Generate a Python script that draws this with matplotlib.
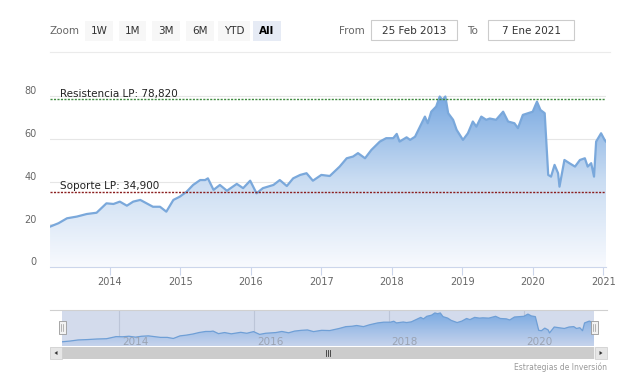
import matplotlib.pyplot as plt
import numpy as np
from matplotlib.colors import LinearSegmentedColormap
from matplotlib.patches import Rectangle, Polygon

# fecha en años decimales (25 Feb 2013 -> 7 Ene 2021), precio de cierre
fecha = [2013.15, 2013.27, 2013.39, 2013.53, 2013.67, 2013.81, 2013.95, 2014.05,
         2014.14, 2014.24, 2014.33, 2014.43, 2014.52, 2014.61, 2014.71, 2014.80,
         2014.90, 2014.99, 2015.09, 2015.18, 2015.28, 2015.35, 2015.39, 2015.47,
         2015.56, 2015.66, 2015.80, 2015.89, 2015.99, 2016.08, 2016.17, 2016.32,
         2016.41, 2016.51, 2016.60, 2016.70, 2016.79, 2016.88, 2017.00, 2017.12,
         2017.26, 2017.36, 2017.45, 2017.52, 2017.62, 2017.71, 2017.83, 2017.92,
         2018.02, 2018.07, 2018.11, 2018.21, 2018.26, 2018.33, 2018.47, 2018.51,
         2018.56, 2018.63, 2018.68, 2018.72, 2018.76, 2018.80, 2018.87, 2018.92,
         2019.01, 2019.08, 2019.15, 2019.20, 2019.27, 2019.34, 2019.39, 2019.48,
         2019.58, 2019.65, 2019.74, 2019.79, 2019.86, 2020.00, 2020.06, 2020.11,
         2020.17, 2020.22, 2020.26, 2020.31, 2020.36, 2020.38, 2020.45, 2020.52,
         2020.60, 2020.67, 2020.74, 2020.78, 2020.83, 2020.87, 2020.90, 2020.97,
         2021.02, 2021.04]
precio = [18.9, 20.5, 22.8, 23.6, 24.8, 25.4, 29.8, 29.5,
          30.6, 28.7, 30.6, 31.4, 29.8, 28.2, 28.2, 25.9,
          31.4, 32.9, 35.3, 38.4, 40.7, 40.7, 41.5, 36.1,
          38.4, 35.7, 38.9, 36.9, 40.4, 34.5, 36.9, 38.4,
          40.7, 37.9, 41.5, 43.1, 43.9, 40.4, 43.1, 42.6,
          47.0, 50.9, 51.7, 53.3, 50.9, 54.8, 58.7, 60.3,
          60.3, 62.3, 58.7, 60.7, 59.5, 61.0, 70.4, 67.3,
          72.7, 75.1, 79.8, 78.2, 79.8, 72.0, 68.9, 64.2,
          59.5, 62.6, 68.1, 65.7, 70.4, 68.9, 69.5, 68.9,
          72.7, 68.1, 67.3, 65.0, 71.2, 72.7, 77.4, 73.5,
          72.0, 43.1, 42.3, 47.8, 43.9, 37.6, 50.1, 48.6,
          47.0, 50.1, 50.9, 47.0, 48.6, 42.3, 58.7, 62.6,
          59.5, 58.7]

anios = [2014, 2015, 2016, 2017, 2018, 2019, 2020, 2021]
anios_nav = [2014, 2016, 2018, 2020]
valores_y = [0, 20, 40, 60, 80]
resistencia = 78.82
soporte = 34.90
botones = ["1W", "1M", "3M", "6M", "YTD", "All"]
desde = "25 Feb 2013"
hasta = "7 Ene 2021"

W, H = 624, 376
fig = plt.figure(figsize=(6.24, 3.76), dpi=100)
plt.rcParams['font.family'] = 'DejaVu Sans'


def ejes_px(x0, y0, x1, y1, **kw):
    return fig.add_axes([x0 / W, 1 - y1 / H, (x1 - x0) / W, (y1 - y0) / H], **kw)


def area_gradiente(ax, x, y, ymin, ymax, cmap):
    poly = ax.fill_between(x, y, ymin, facecolor='none', edgecolor='none')
    im = ax.imshow(np.linspace(0, 1, 256).reshape(-1, 1), cmap=cmap, aspect='auto',
                   origin='lower', extent=[x[0], x[-1], ymin, ymax], zorder=1)
    im.set_clip_path(poly.get_paths()[0], transform=ax.transData)


xlim = (2013.149, 2021.04)

# ---- grafico principal
ax = ejes_px(50, 79, 606, 267)
cmap = LinearSegmentedColormap.from_list('g', ['#f8fafe', '#c9dcf2', '#74a6e0'])
area_gradiente(ax, fecha, precio, 0, 82, cmap)
ax.plot(fecha, precio, color='#7aa8db', lw=1.6, zorder=3)
ax.set_xlim(*xlim)
ax.set_ylim(0, 88)
for v in valores_y[1:]:
    ax.axhline(v, color='#e6e6e6', lw=0.8, zorder=0)
for s in ['top', 'right', 'left']:
    ax.spines[s].set_visible(False)
ax.spines['bottom'].set_color('#ccd6eb')
ax.set_facecolor('none')
ax.set_yticks([])
ax.set_xticks(anios)
ax.set_xticklabels([str(a) for a in anios])
ax.tick_params(axis='x', length=6, color='#ccd6eb', labelcolor='#666666',
               labelsize=7, pad=1.5)
for v in valores_y:
    ax.text(-0.024, v + 0.8, str(v), transform=ax.get_yaxis_transform(),
            ha='right', va='baseline', fontsize=7, color='#666666')

ax.axhline(resistencia, color='#3f8a3f', lw=1, ls=(0, (1.5, 1)), zorder=4)
ax.axhline(soporte, color='#8b1e1e', lw=1, ls=(0, (1.5, 1)), zorder=4)
ax.text(xlim[0] + 10 / 70.5, resistencia + 0.9, "Resistencia LP: 78,820",
        fontsize=7.5, color='#222222', va='baseline', zorder=5)
ax.text(xlim[0] + 10 / 70.5, soporte + 1.5, "Soporte LP: 34,900",
        fontsize=7.5, color='#222222', va='baseline', zorder=5)

# ---- navegador
nav = ejes_px(62, 310, 594, 346)
nav.set_facecolor('#d3dbec')
cmap_nav = LinearSegmentedColormap.from_list('n', ['#c6d3ec', '#7aaae2'])
area_gradiente(nav, fecha, precio, 10, 80, cmap_nav)
nav.plot(fecha, precio, color='#6f9fd6', lw=0.9, zorder=3)
nav.set_xlim(*xlim)
nav.set_ylim(10, 86)
for a in anios_nav:
    nav.axvline(a, color='#bcc5d8', lw=0.8, zorder=0.5)
    nav.text(a + 0.04, 12.5, str(a), fontsize=7.5, color='#9aa3b3', zorder=4)
nav.set_xticks([])
nav.set_yticks([])
for s in nav.spines.values():
    s.set_visible(False)

# ---- capa superior: barra de herramientas, scrollbar, manijas
ov = ejes_px(0, 0, W, H, zorder=10)
ov.set_xlim(0, W)
ov.set_ylim(H, 0)
ov.axis('off')
ov.patch.set_alpha(0)

ov.text(50, 31, "Zoom", fontsize=7.5, color='#666666', va='center')
bx = [85, 119, 152, 186, 218, 253]
bw = [28, 27, 28, 28, 32, 28]
for b, x0, w in zip(botones, bx, bw):
    sel = b == "All"
    ov.add_patch(Rectangle((x0, 21), w, 20, facecolor='#e6ebf5' if sel else '#f7f7f7',
                           edgecolor='none'))
    ov.text(x0 + w / 2, 31, b, ha='center', va='center', fontsize=7.5,
            color='#000000' if sel else '#333333', fontweight='bold' if sel else 'normal')
ov.text(339, 31, "From", fontsize=7.5, color='#666666', va='center')
ov.add_patch(Rectangle((371, 20), 86, 20, facecolor='white', edgecolor='#cccccc', lw=0.8))
ov.text(414, 30.5, desde, ha='center', va='center', fontsize=7.5, color='#333333')
ov.text(467, 31, "To", fontsize=7.5, color='#666666', va='center')
ov.add_patch(Rectangle((488, 20), 86, 20, facecolor='white', edgecolor='#cccccc', lw=0.8))
ov.text(531, 30.5, hasta, ha='center', va='center', fontsize=7.5, color='#333333')
ov.plot([50, 610], [52, 52], color='#ebebeb', lw=0.8)

# borde del navegador
ov.plot([50, 607], [310, 310], color='#d0d0d0', lw=0.8)
# scrollbar
ov.add_patch(Rectangle((50, 347), 557, 12, facecolor='#f2f2f2', edgecolor='none'))
ov.add_patch(Rectangle((62, 347), 532, 12, facecolor='#cccccc', edgecolor='none'))
ov.add_patch(Rectangle((50, 347), 12, 12, facecolor='#e6e6e6', edgecolor='#cccccc', lw=0.5))
ov.add_patch(Rectangle((595, 347), 12, 12, facecolor='#e6e6e6', edgecolor='#cccccc', lw=0.5))
ov.add_patch(Polygon([(57.5, 351), (57.5, 355), (54.5, 353)], facecolor='#333333'))
ov.add_patch(Polygon([(599.5, 351), (599.5, 355), (602.5, 353)], facecolor='#333333'))
for dx in (-2, 0, 2):
    ov.plot([328 + dx, 328 + dx], [350, 356], color='#333333', lw=0.6)
# manijas
for hx in (62, 594):
    ov.add_patch(Rectangle((hx - 3.5, 321), 7, 13, facecolor='#f2f2f2', edgecolor='#999999', lw=0.6))
    for dx in (-1, 1):
        ov.plot([hx + dx, hx + dx], [324, 331], color='#999999', lw=0.5)

ov.text(607, 367, "Estrategias de Inversión", ha='right', va='center', fontsize=5.5,
        color='#999999')

fig.savefig('out.png', dpi=100)
